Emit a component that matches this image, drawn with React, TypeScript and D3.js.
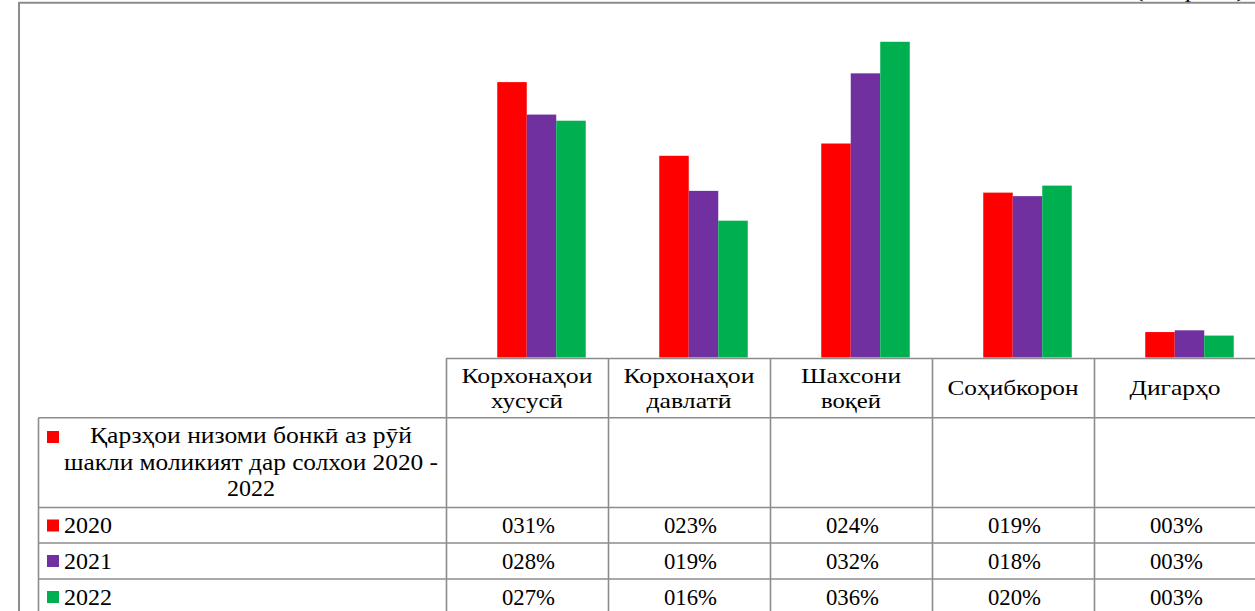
import React from "react";
import * as d3 from "d3";

const categories: string[][] = [
  ["Корхонаҳои", "хусусӣ"],
  ["Корхонаҳои", "давлатӣ"],
  ["Шахсони", "воқеӣ"],
  ["Соҳибкорон"],
  ["Дигарҳо"],
];
const categoryWidths: number[][] = [
  [131, 72],
  [131, 85],
  [100, 60],
  [131],
  [91],
];
const years = ["2020", "2021", "2022"];
const colors = ["#FF0000", "#7030A0", "#00B050"];
const values2020 = [31.4, 23.0, 24.4, 18.8, 2.9];
const values2021 = [27.7, 19.0, 32.4, 18.4, 3.1];
const values2022 = [27.0, 15.6, 36.0, 19.6, 2.5];
const series = [values2020, values2021, values2022];
const legendTitle = ["Қарзҳои низоми бонкӣ аз рӯй", "шакли моликият дар солхои 2020 -", "2022"];
const legendTitleWidths = [322, 374, 48];
const unitNote = "(бо фоиз)";

const fmt = (v: number) => d3.format("03d")(Math.round(v)) + "%";

export default function App() {
  const W = 1255;
  const H = 611;
  const tableLeft = 446;
  const tableRight = 1256;
  const legendLeft = 38.5;
  const baseY = 357.5;
  const headTop = 358.5;
  const headBottom = 417.7;
  const rowLines = [507.5, 543, 579, 615];
  const frameX = 19;

  const xCol = d3.scaleBand<number>().domain(d3.range(categories.length)).range([tableLeft, tableRight]);
  const xPlot = d3.scaleBand<number>().domain(d3.range(categories.length)).range([tableLeft + 14.5, tableRight + 14.5]);
  const xYear = d3.scaleBand<number>().domain(d3.range(years.length)).range([36.75, 125.25]);
  const y = d3.scaleLinear().domain([0, 38]).range([baseY, baseY - 38 * 8.77]);

  const grid = "#8c8c8c";
  const textStyle: React.CSSProperties = { fontFamily: '"Liberation Serif", "Times New Roman", Times, serif' };

  return (
    <div style={{ position: "fixed", left: 0, top: 0 }}>
      <svg width={W} height={H} style={{ display: "block", background: "#fff" }}>
        <rect x={0} y={0} width={W} height={H} fill="#fff" />
        <g style={textStyle}>
          {/* unit note, cut off by the top edge as in the source */}
          <text x={1190} y={-3.5} fontSize={22} textAnchor="middle" textLength={111} lengthAdjust="spacingAndGlyphs" fill="#000">
            {unitNote}
          </text>
        </g>
        {/* outer frame */}
        <line x1={frameX} x2={W} y1={2.8} y2={2.8} stroke={grid} strokeWidth={2} />
        <line x1={frameX} x2={frameX} y1={2} y2={H} stroke={grid} strokeWidth={2} />

        {/* bars */}
        {series.map((vals, si) =>
          vals.map((v, ci) => (
            <rect
              key={`${si}-${ci}`}
              x={(xPlot(ci) as number) + (xYear(si) as number)}
              y={y(v)}
              width={xYear.bandwidth()}
              height={y(0) - y(v)}
              fill={colors[si]}
            />
          ))
        )}

        {/* table lines */}
        <line x1={tableLeft} x2={tableRight} y1={headTop} y2={headTop} stroke={grid} strokeWidth={1.6} />
        <line x1={legendLeft} x2={tableRight} y1={headBottom} y2={headBottom} stroke={grid} strokeWidth={1.6} />
        {rowLines.map((ry, i) => (
          <line key={i} x1={legendLeft} x2={tableRight} y1={ry} y2={ry} stroke={grid} strokeWidth={1.6} />
        ))}
        <line x1={legendLeft} x2={legendLeft} y1={headBottom} y2={H} stroke={grid} strokeWidth={1.6} />
        {d3.range(categories.length + 1).map((i) => {
          const cx = i < categories.length ? (xCol(i) as number) : tableRight;
          return <line key={i} x1={cx + 0.5} x2={cx + 0.5} y1={headTop} y2={H} stroke={grid} strokeWidth={1.6} />;
        })}

        <g style={textStyle}>
          {/* header labels */}
          {categories.map((lines, ci) => {
            const cx = (xCol(ci) as number) + xCol.bandwidth() / 2;
            const baselines = lines.length === 2 ? [383, 408] : [395];
            return lines.map((t, li) => (
              <text
                key={`${ci}-${li}`}
                x={cx}
                y={baselines[li]}
                fontSize={21}
                textAnchor="middle"
                textLength={categoryWidths[ci][li]}
                lengthAdjust="spacingAndGlyphs"
                fill="#000"
              >
                {t}
              </text>
            ));
          })}

          {/* legend title */}
          <rect x={47} y={431} width={12} height={12} fill={colors[0]} />
          {legendTitle.map((t, i) => (
            <text
              key={i}
              x={251}
              y={[443.3, 470, 496][i]}
              fontSize={24}
              textAnchor="middle"
              textLength={legendTitleWidths[i]}
              lengthAdjust="spacingAndGlyphs"
              fill="#000"
            >
              {t}
            </text>
          ))}

          {/* rows */}
          {years.map((yr, si) => {
            const top = rowLines[si];
            const base = top + 25.8;
            return (
              <g key={yr}>
                <rect x={47} y={top + 12} width={12} height={12} fill={colors[si]} />
                <text x={64} y={base} fontSize={24} fill="#000">
                  {yr}
                </text>
                {series[si].map((v, ci) => (
                  <text
                    key={ci}
                    x={(xCol(ci) as number) + xCol.bandwidth() / 2 + 1.5}
                    y={base}
                    fontSize={24}
                    textAnchor="middle"
                    textLength={53}
                    lengthAdjust="spacingAndGlyphs"
                    fill="#000"
                  >
                    {fmt(v)}
                  </text>
                ))}
              </g>
            );
          })}
        </g>
      </svg>
    </div>
  );
}
